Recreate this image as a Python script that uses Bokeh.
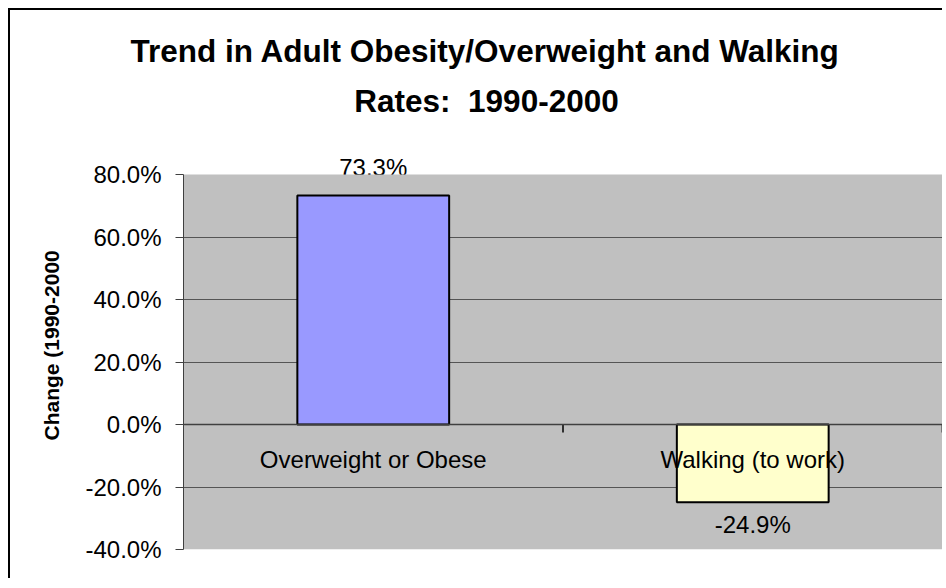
from bokeh.plotting import figure
from bokeh.models import (FactorRange, Range1d, FixedTicker, NumeralTickFormatter,
                          Label, LabelSet, BoxAnnotation, ColumnDataSource, Grid, Title)
from bokeh.core.properties import value
from bokeh.transform import dodge
from bokeh.embed import file_html
from bokeh.resources import INLINE

categories = ["Overweight or Obese", "Walking (to work)"]
changes = [0.733, -0.249]
bar_colors = ["#9999FF", "#FFFFCC"]
label_texts = ["73.3%", "-24.9%"]
y_ticks = [-0.4, -0.2, 0.0, 0.2, 0.4, 0.6, 0.8]
grid_ticks = [-0.2, 0.2, 0.4, 0.6]
title_lines = ["Trend in Adult Obesity/Overweight and Walking", "Rates:  1990-2000"]
y_label = "Change (1990-2000"

FONT = "Liberation Sans"
W, H = 934, 570
TOP_BORDER = 65             # canvas px above the frame (holds title line 1)
BOTTOM_BORDER = 31
Y0, Y1 = -0.4, 0.8          # plot-area value range
AREA_H = 375                # plot-area height in px
FRAME_H = H - TOP_BORDER - BOTTOM_BORDER
per_px = (Y1 - Y0) / AREA_H
Y_TOP = Y0 + FRAME_H * per_px

p = figure(width=W, height=H, x_range=FactorRange(*categories), y_range=Range1d(Y0, Y_TOP),
           output_backend="svg", toolbar_location=None,
           min_border_left=173, min_border_right=2, min_border_top=TOP_BORDER,
           min_border_bottom=BOTTOM_BORDER)
p.styles = {"margin-left": "8px", "margin-top": "8px",
            "border-top": "2px solid black", "border-left": "2px solid black"}
p.background_fill_color = "white"
p.border_fill_color = "white"
p.outline_line_color = None

# bars
p.vbar(x=categories, top=changes, bottom=0, width=0.4, fill_color=bar_colors,
       line_color="black", line_width=2)

# category axis sitting on the zero line
xa = p.xaxis[0]
xa.fixed_location = 0
xa.major_tick_line_color = None
xa.axis_line_color = "#404040"
xa.axis_line_width = 1.5
xa.major_label_standoff = 15
xa.major_label_text_font = FONT
xa.major_label_text_font_size = "24px"
xa.major_label_text_color = "black"

# boundary ticks between categories (8 px long, pointing down)
tick_len = 8 * per_px
bsrc = ColumnDataSource(dict(x=categories, y0=[0.0] * len(categories),
                             y1=[-tick_len] * len(categories)))
p.segment(x0=dodge("x", 0.5, range=p.x_range), x1=dodge("x", 0.5, range=p.x_range),
          y0="y0", y1="y1", source=bsrc, line_color="#303030", line_width=2)

# y axis
ya = p.yaxis[0]
ya.bounds = (Y0, Y1)
ya.ticker = FixedTicker(ticks=y_ticks)
ya.formatter = NumeralTickFormatter(format="0.0%")
ya.major_tick_out = 8
ya.major_tick_in = 0
ya.minor_tick_line_color = None
ya.axis_line_color = "#404040"
ya.major_tick_line_color = "#404040"
ya.major_label_standoff = 14
ya.major_label_text_font = FONT
ya.major_label_text_font_size = "24px"
ya.major_label_text_color = "black"

p.xgrid.visible = False
p.ygrid.ticker = FixedTicker(ticks=grid_ticks)
p.ygrid.grid_line_color = "#555555"

# data labels
pos = ColumnDataSource(dict(x=[c for c, v in zip(categories, changes) if v >= 0],
                            y=[v for v in changes if v >= 0],
                            t=[t for t, v in zip(label_texts, changes) if v >= 0]))
neg = ColumnDataSource(dict(x=[c for c, v in zip(categories, changes) if v < 0],
                            y=[v for v in changes if v < 0],
                            t=[t for t, v in zip(label_texts, changes) if v < 0]))
pos_labels = LabelSet(x="x", y="y", text="t", source=pos, text_align="center",
                      text_baseline="alphabetic", y_offset=19, text_font=value(FONT),
                      text_font_size=value("24px"), text_color="black", level="underlay")
neg_labels = LabelSet(x="x", y="y", text="t", source=neg, text_align="center",
                      text_baseline="alphabetic", y_offset=-31, text_font=value(FONT),
                      text_font_size=value("24px"), text_color="black")
# grey plot area (drawn over the lower part of the positive label, like the original)
plot_area = BoxAnnotation(bottom=Y0, top=Y1, fill_color="#C0C0C0", fill_alpha=1.0,
                          line_color=None, level="underlay")
p.add_layout(pos_labels)
p.add_layout(plot_area)
p.add_layout(neg_labels)
grids = [r for r in p.center if isinstance(r, Grid)]
others = [r for r in p.center if not isinstance(r, Grid) and r not in (pos_labels, plot_area)]
p.center = [pos_labels, plot_area] + grids + others

# title line 1 in the top panel, line 2 inside the tall frame
p.add_layout(Title(text=title_lines[0], align="left", offset=-53, standoff=14,
                   vertical_align="bottom", text_font=FONT, text_font_size="31.5px",
                   text_font_style="bold", text_color="black"), "above")
p.add_layout(Label(x=303, y=449, x_units="screen", y_units="screen",
                   text=title_lines[1].replace("  ", " \u00a0"),
                   text_align="center", text_baseline="alphabetic", text_font=FONT,
                   text_font_size="31.5px", text_font_style="bold", text_color="black"))

# y axis title
p.add_layout(Title(text=y_label, align="left", offset=109, standoff=40, text_font=FONT,
                   text_font_size="21px", text_font_style="bold", text_color="black"), "left")

open("out.html", "w").write(file_html(p, INLINE))
